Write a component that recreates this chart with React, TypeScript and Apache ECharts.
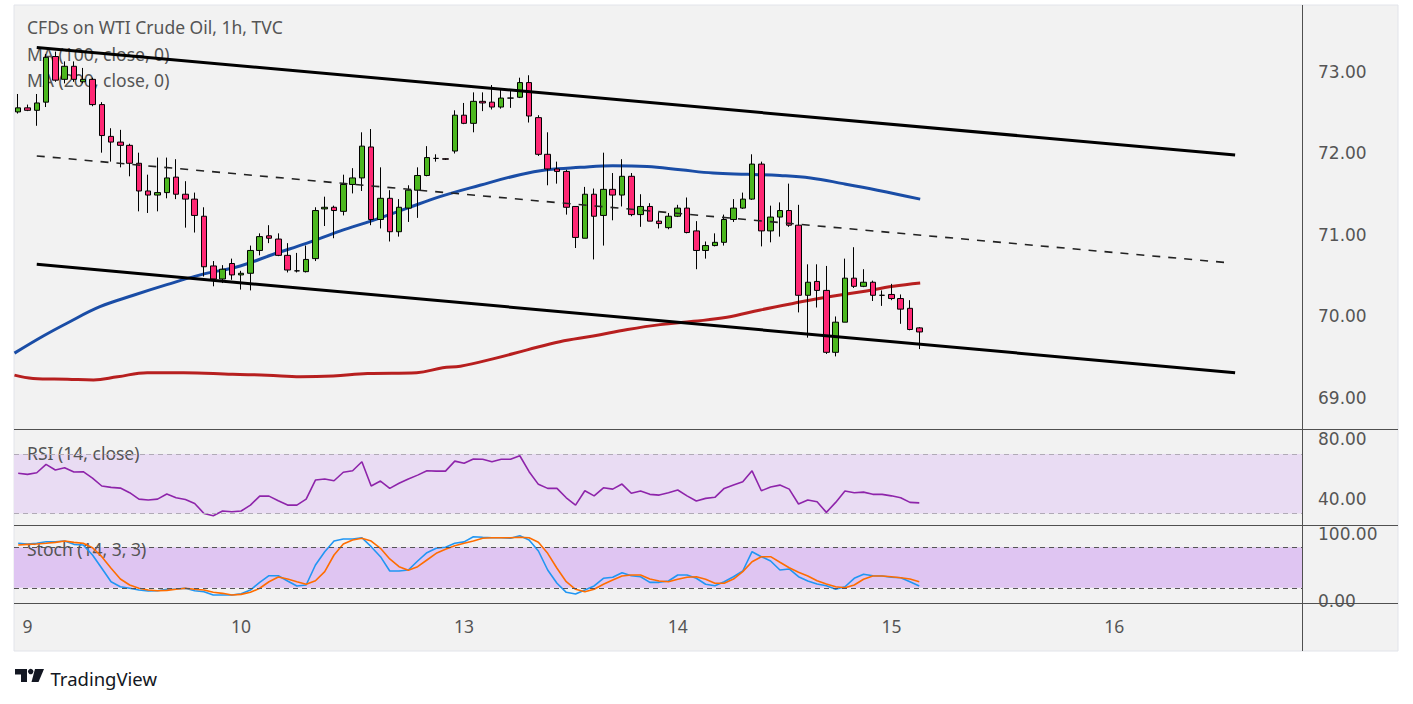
import React, { useEffect, useRef } from "react";
import * as echarts from "echarts";

// ---- candles (hourly) ----
const opens = [72.51,72.56,72.53,72.63,73.19,72.91,73.07,72.88,72.91,72.60, 72.21,72.14,72.10,71.88,71.54,71.49,71.52,71.71,71.50,71.44, 71.23,70.62,70.46,70.65,70.51,70.53,70.81,70.99,70.95,70.75, 70.56,70.55,70.71,71.32,71.34,71.29,71.62,71.70,72.08,71.19, 71.45,71.04,71.33,71.55,71.73,71.94,71.935,72.03,72.47,72.37, 72.64,72.63,72.57,72.68,72.69,72.87,72.44,71.99,71.81,71.78, 71.35,70.96,71.50,71.24,71.56,71.49,71.72,71.25,71.35,71.17, 71.09,71.23,71.33,71.05,70.81,70.87,70.91,71.19,71.33,71.44, 71.87,71.05,71.22,71.30,71.12,70.26,70.43,70.32,69.56,69.93, 70.47,70.37,70.42,70.26,70.27,70.22,70.10,69.86];
const closes = [72.56,72.53,72.62,73.18,72.90,73.07,72.91,72.91,72.60,72.22, 72.14,72.10,71.88,71.54,71.49,71.52,71.70,71.50,71.44,71.24, 70.61,70.46,70.58,70.51,70.53,70.81,70.98,70.96,70.75,70.57, 70.56,70.70,71.30,71.34,71.30,71.62,71.70,72.09,71.19,71.45, 71.04,71.34,71.55,71.73,71.95,71.94,71.93,72.47,72.37,72.64, 72.62,72.57,72.68,72.68,72.87,72.46,71.99,71.81,71.78,71.34, 70.97,71.50,71.23,71.56,71.49,71.72,71.25,71.35,71.17,71.14, 71.23,71.33,71.03,70.81,70.87,70.91,71.19,71.33,71.44,71.87, 71.05,71.22,71.30,71.12,70.26,70.42,70.32,69.56,69.93,70.47, 70.37,70.42,70.26,70.26,70.22,70.09,69.84,69.81];
const lows = [72.49,72.52,72.34,72.57,72.88,72.86,72.88,72.86,72.58,72.01, 71.90,71.83,71.72,71.29,71.27,71.29,71.45,71.44,71.09,71.03, 70.49,70.37,70.41,70.45,70.33,70.32,70.75,70.90,70.74,70.54, 70.54,70.54,70.68,71.11,70.96,71.24,71.51,71.54,71.12,71.08, 70.92,70.98,71.16,71.21,71.72,71.90,71.92,72.00,72.36,72.26, 72.52,72.54,72.55,72.56,72.68,72.38,71.97,71.61,71.63,71.25, 70.84,70.96,70.70,70.87,71.18,71.35,71.23,71.10,71.17,71.08, 71.07,71.22,71.02,70.58,70.71,70.86,70.87,71.16,71.32,71.43, 70.86,70.91,70.98,71.10,70.05,69.74,70.11,69.54,69.51,69.93, 70.35,70.36,70.19,70.13,70.20,69.91,69.83,69.60];
const highs = [72.73,72.60,72.73,73.22,73.25,73.13,73.13,73.05,72.93,72.63, 72.31,72.29,72.12,72.01,71.74,71.95,71.95,71.93,71.66,71.52, 71.34,70.68,70.63,70.71,70.56,70.87,71.02,71.12,71.02,70.90, 70.78,70.87,71.34,71.47,71.36,71.74,71.82,72.26,72.30,71.83, 71.55,71.44,71.61,71.83,72.09,71.99,71.94,72.53,72.62,72.75, 72.75,72.84,72.79,72.79,72.93,72.96,72.47,72.26,71.90,71.80, 71.35,71.59,71.57,72.01,71.76,71.93,71.76,71.50,71.39,71.28, 71.27,71.37,71.46,71.17,70.92,71.02,71.25,71.44,71.52,71.99, 71.90,71.36,71.40,71.63,71.37,70.64,70.64,70.62,70.00,70.71, 70.85,70.58,70.44,70.32,70.40,70.27,70.20,69.87];

// ---- moving averages as [bar index, price] ----
const ma100 = [[-0.4,69.55],[2.7,69.76],[5.3,69.92],[8.8,70.12],[12.4,70.26],[16.0,70.39],[19.6,70.51],[23.9,70.62],[27.4,70.76],[31.1,70.90],[34.7,71.05],[38.2,71.18],[41.9,71.33],[45.4,71.47],[49.7,71.61],[54.0,71.74],[56.9,71.80],[60.5,71.83],[64.0,71.85],[67.7,71.84],[71.3,71.80],[74.8,71.76],[78.5,71.745],[82.0,71.73],[85.3,71.70],[88.8,71.63],[92.5,71.55],[97.1,71.44]];
const ma200 = [[-0.4,69.28],[1.6,69.24],[5.3,69.23],[8.1,69.22],[10.7,69.26],[13.9,69.31],[17.8,69.31],[23.1,69.29],[26.8,69.28],[30.4,69.26],[33.9,69.27],[37.6,69.30],[42.9,69.31],[45.7,69.37],[47.6,69.39],[51.1,69.48],[54.8,69.59],[58.3,69.69],[61.9,69.76],[65.6,69.84],[69.1,69.90],[72.7,69.94],[76.3,69.99],[79.9,70.08],[83.4,70.16],[87.1,70.24],[90.6,70.30],[94.2,70.37],[97.1,70.41]];

// ---- drawn channel (trend lines) ----
const upperChannel = [[2, 73.30], [131, 71.98]];
const midChannel = [[2, 71.97], [130.2, 70.66]];
const lowerChannel = [[2, 70.64], [131, 69.31]];

// ---- oscillators ----
const rsi = [57.0,56.3,57.4,63.0,59.2,60.7,57.9,58.1,53.8,48.5, 47.6,47.1,44.0,39.7,39.1,39.7,43.1,40.6,39.5,36.8, 30.1,28.5,31.7,31.2,31.7,35.7,41.7,41.7,38.6,35.7, 35.7,39.7,52.5,53.2,52.0,57.7,58.7,64.8,48.5,51.8, 46.9,50.3,53.2,55.8,58.7,58.5,58.5,65.2,63.7,66.6, 66.4,64.8,66.4,66.4,68.8,58.1,49.6,46.9,46.9,40.6, 35.7,45.3,41.9,47.3,46.4,49.8,43.6,45.1,42.9,42.4, 44.0,45.8,41.9,38.4,40.2,40.9,46.9,49.1,51.3,58.7, 45.3,47.8,49.1,46.4,36.4,39.1,37.9,30.8,37.5,45.1, 44.0,44.4,42.9,42.9,41.9,40.6,37.5,37.2];
const stochK = [85.9,84.9,85.9,88.3,88.3,89.3,84.4,83.4,68.6,48.9, 29.0,21.6,19.3,16.7,15.3,15.7,17.8,18.2,19.3,15.7, 14.2,9.3,9.3,9.3,11.3,16.7,28.1,37.9,37.9,30.1, 22.7,24.1,53.8,73.5,89.3,92.3,92.3,94.2,80.9,66.1, 44.9,44.9,46.4,59.7,72.0,78.5,80.0,85.9,88.0,95.7, 94.8,94.2,94.2,93.3,97.2,90.8,74.5,46.4,26.7,13.3, 10.8,16.7,22.7,34.1,35.6,42.4,37.9,36.4,28.1,28.1, 30.1,39.0,39.0,34.1,25.2,23.1,29.0,36.4,44.9,73.5, 66.1,59.7,46.4,47.9,36.4,30.1,25.6,23.1,17.8,21.6, 34.1,40.0,37.9,37.5,35.6,35.0,29.0,22.7];
const stochD = [83.4,84.4,84.9,85.9,87.3,89.3,87.3,85.9,79.4,66.1, 48.9,33.0,24.1,19.3,16.7,15.7,16.2,17.8,19.3,17.8, 16.7,13.3,11.8,9.3,10.3,13.3,19.3,29.0,36.0,33.0, 29.0,25.2,30.5,43.9,68.6,84.9,90.8,93.3,89.3,78.5, 62.7,51.3,45.9,51.3,61.2,71.1,77.0,82.4,86.0,89.3, 93.3,94.2,94.2,94.2,94.8,94.2,87.4,71.1,48.9,29.0, 17.8,14.2,17.8,25.2,31.6,37.5,39.0,39.0,33.0,30.1, 29.0,32.6,35.6,36.4,32.6,26.7,26.7,33.0,43.9,58.7, 66.1,66.1,57.8,49.8,43.0,37.5,30.5,25.6,21.6,20.1, 24.1,32.6,37.5,37.5,36.4,35.0,33.0,29.0];

// ---- ticks / labels ----
const dayTickIndex = [1, 24, 48, 71, 94, 118];
const dayTickLabels = ["9", "10", "13", "14", "15", "16"];
const priceTicks = [69, 70, 71, 72, 73];
const rsiTicks = [40, 80];
const stochTicks = [0, 100];
const rsiBand = [30, 70];
const stochBand = [20, 80];
const titleText = "CFDs on WTI Crude Oil, 1h, TVC";
const ma100Label = "MA (100, close, 0)";
const ma200Label = "MA (200, close, 0)";
const rsiLabel = "RSI (14, close)";
const stochLabel = "Stoch (14, 3, 3)";

const X_MIN = -0.45;
const X_MAX = 138.2;
const TXT = "#555555";
const FONT = '"Noto Sans", sans-serif';

export default function App() {
  const ref = useRef<HTMLDivElement>(null);
  useEffect(() => {
    const chart = echarts.init(ref.current!, null, { renderer: "svg" });
    const candles = opens.map((o, i) => [i, o, closes[i], lows[i], highs[i]]);
    const rsiData = rsi.map((v, i) => [i, v]);
    const kData = stochK.map((v, i) => [i, v]);
    const dData = stochD.map((v, i) => [i, v]);

    const xAx = (gridIndex: number, show: boolean) => ({
      type: "value",
      gridIndex,
      min: X_MIN,
      max: X_MAX,
      axisLine: { show: false },
      axisTick: { show: false },
      splitLine: { show: false },
      axisLabel: show
        ? {
            show: true,
            customValues: dayTickIndex,
            formatter: (v: number) => dayTickLabels[dayTickIndex.indexOf(Math.round(v))] ?? "",
            color: TXT,
            fontSize: 17.5,
            fontFamily: FONT,
            margin: 13,
          }
        : { show: false },
    });
    const yAx = (gridIndex: number, min: number, max: number, ticks: number[]) => ({
      type: "value",
      gridIndex,
      position: "right",
      min,
      max,
      axisLine: { show: false },
      axisTick: { show: false },
      splitLine: { show: false },
      axisLabel: {
        customValues: ticks,
        formatter: (v: number) => v.toFixed(2),
        color: TXT,
        fontSize: 17,
        fontFamily: '"DejaVu Sans", sans-serif',
        margin: 16,
      },
    });

    const sepLine = (x1: number, y1: number, x2: number, y2: number) => ({
      type: "line",
      z: 50,
      shape: { x1, y1, x2, y2 },
      style: { stroke: "#505050", lineWidth: 1 },
      silent: true,
    });
    const txt = (text: string, x: number, y: number, size = 17.5, fill = TXT, z = 2) => ({
      type: "text",
      z,
      style: { text, x, y, fill, fontSize: size, fontFamily: FONT, verticalAlign: "middle", align: "left" },
      silent: true,
    });
    const bandSeries = (axisIndex: number, band: number[], fill: string, dash: string) => ({
      type: "line",
      xAxisIndex: axisIndex,
      yAxisIndex: axisIndex,
      data: [],
      z: 1,
      silent: true,
      markArea: {
        silent: true,
        itemStyle: { color: fill },
        data: [[{ yAxis: band[0] }, { yAxis: band[1] }]],
      },
      markLine: {
        silent: true,
        symbol: "none",
        label: { show: false },
        lineStyle: { color: dash, width: 1, type: [5, 4] },
        data: [{ yAxis: band[0] }, { yAxis: band[1] }],
      },
    });

    const option: any = {
      animation: false,
      backgroundColor: "#ffffff",
      grid: [
        { left: 14, top: 5.5, width: 1288, height: 424 },
        { left: 14, top: 429.5, width: 1288, height: 96 },
        { left: 14, top: 525.5, width: 1288, height: 78.5 },
      ],
      xAxis: [xAx(0, false), xAx(1, false), xAx(2, true)],
      yAxis: [
        yAx(0, 68.613, 73.816, priceTicks),
        yAx(1, 22, 86.4, rsiTicks),
        yAx(2, -4, 112.3, stochTicks),
      ],
      graphic: [
        {
          type: "rect",
          z: -10,
          shape: { x: 14, y: 5, width: 1384, height: 646 },
          style: { fill: "#f2f2f2", stroke: "#e2e4ea", lineWidth: 1 },
          silent: true,
        },
        sepLine(14, 429.5, 1398, 429.5),
        sepLine(14, 525.5, 1398, 525.5),
        sepLine(14, 603.5, 1398, 603.5),
        sepLine(1302.5, 5, 1302.5, 651),
        txt(titleText, 27, 27),
        txt(ma100Label, 27, 54),
        txt(ma200Label, 27, 80),
        txt(rsiLabel, 27, 453),
        txt(stochLabel, 27, 549),
        {
          type: "polygon",
          z: 5,
          shape: { points: [[15, 669], [27, 669], [27, 682], [21, 682], [21, 674.5], [15, 674.5]] },
          style: { fill: "#131722" },
        },
        { type: "circle", z: 5, shape: { cx: 30.7, cy: 671.6, r: 2.7 }, style: { fill: "#131722" } },
        {
          type: "polygon",
          z: 5,
          shape: { points: [[35, 669], [44, 669], [38.5, 682], [31.5, 682]] },
          style: { fill: "#131722" },
        },
        txt("TradingView", 50.5, 678, 18.5, "#131722", 5),
      ],
      series: [
        {
          type: "line",
          xAxisIndex: 0,
          yAxisIndex: 0,
          data: ma200,
          smooth: 0.4,
          showSymbol: false,
          lineStyle: { color: "#b71f1f", width: 3 },
          z: 3,
        },
        {
          type: "line",
          xAxisIndex: 0,
          yAxisIndex: 0,
          data: ma100,
          smooth: 0.4,
          showSymbol: false,
          lineStyle: { color: "#1a4da6", width: 3 },
          z: 3,
        },
        {
          type: "candlestick",
          xAxisIndex: 0,
          yAxisIndex: 0,
          data: candles,
          barWidth: 6,
          itemStyle: {
            color: "#4cb71f",
            color0: "#ff2874",
            borderColor: "#000000",
            borderColor0: "#000000",
            borderWidth: 1,
          },
          z: 4,
        },
        {
          type: "line",
          xAxisIndex: 0,
          yAxisIndex: 0,
          data: upperChannel,
          showSymbol: false,
          lineStyle: { color: "#000000", width: 3 },
          z: 6,
        },
        {
          type: "line",
          xAxisIndex: 0,
          yAxisIndex: 0,
          data: lowerChannel,
          showSymbol: false,
          lineStyle: { color: "#000000", width: 3 },
          z: 6,
        },
        {
          type: "line",
          xAxisIndex: 0,
          yAxisIndex: 0,
          data: midChannel,
          showSymbol: false,
          lineStyle: { color: "#222222", width: 1.6, type: [8, 8] },
          z: 6,
        },
        bandSeries(1, rsiBand, "#e9dcf3", "#b0aab6"),
        {
          type: "line",
          xAxisIndex: 1,
          yAxisIndex: 1,
          data: rsiData,
          showSymbol: false,
          lineStyle: { color: "#8e24aa", width: 1.6 },
          z: 3,
        },
        bandSeries(2, stochBand, "#dfc5f2", "#555555"),
        {
          type: "line",
          xAxisIndex: 2,
          yAxisIndex: 2,
          data: kData,
          showSymbol: false,
          lineStyle: { color: "#2196f3", width: 1.6 },
          z: 3,
        },
        {
          type: "line",
          xAxisIndex: 2,
          yAxisIndex: 2,
          data: dData,
          showSymbol: false,
          lineStyle: { color: "#ff6d00", width: 1.6 },
          z: 4,
        },
      ],
    };
    chart.setOption(option);
    return () => chart.dispose();
  }, []);
  return (
    <div
      ref={ref}
      style={{ position: "fixed", left: 0, top: 0, width: "1413px", height: "704px" }}
    />
  );
}
